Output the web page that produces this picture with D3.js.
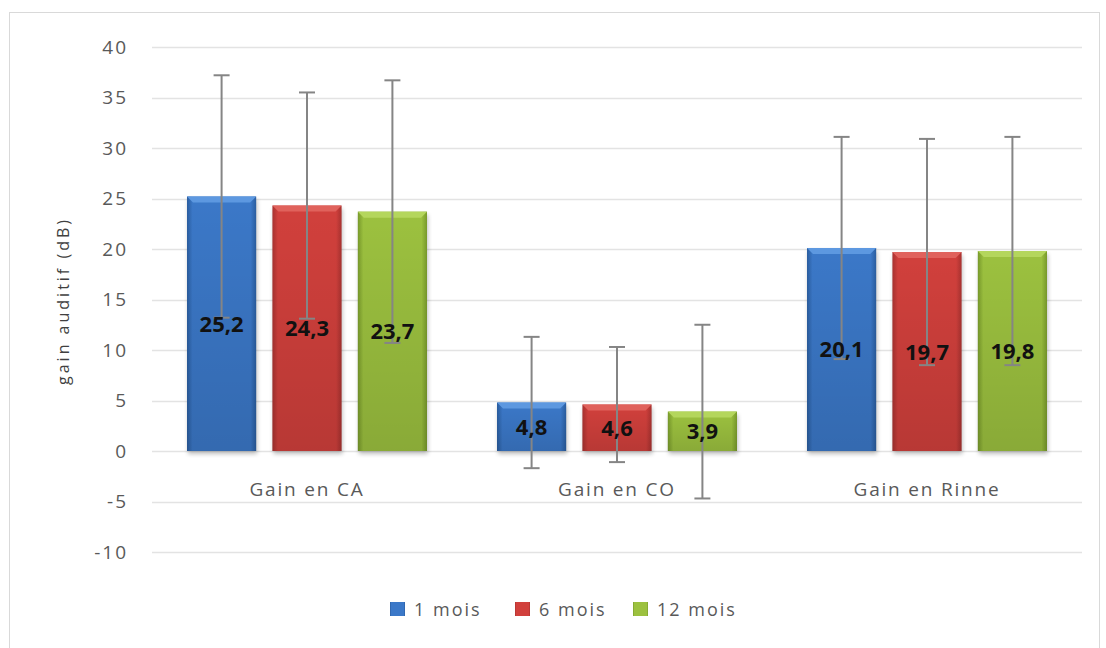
<!DOCTYPE html>
<html lang="fr">
<head>
<meta charset="UTF-8">
<title>Gain auditif</title>
<script src="https://d3js.org/d3.v7.min.js"></script>
<style>
  body { margin: 0; background: #fff; }
  text { font-family: "Open Sans", "DejaVu Sans", sans-serif; }
</style>
</head>
<body>
<div id="chart"></div>
<script>
// data
var categories = ["Gain en CA", "Gain en CO", "Gain en Rinne"];
var series = ["1 mois", "6 mois", "12 mois"];
var means = [
    [25.2, 24.3, 23.7],
    [4.8, 4.6, 3.9],
    [20.1, 19.7, 19.8]
];
var sds = [
    [12.0, 11.2, 13.0],
    [6.5, 5.7, 8.6],
    [11.0, 11.2, 11.3]
];
var yTicks = [-10, -5, 0, 5, 10, 15, 20, 25, 30, 35, 40];
var labels = [
    ["25,2", "24,3", "23,7"],
    ["4,8", "4,6", "3,9"],
    ["20,1", "19,7", "19,8"]
];

var w = 1106, h = 648;
var colors = [
    { mid: "#3b78c8", light: "#5d98e0", dark: "#2a5d9f" },
    { mid: "#d1403c", light: "#e0625c", dark: "#a83230" },
    { mid: "#9cc13f", light: "#b4d65c", dark: "#789a2b" }
];

var svg = d3.select("#chart").append("svg")
    .attr("width", w)
    .attr("height", h);

var defs = svg.append("defs");
colors.forEach(function(c, i) {
    var g = defs.append("linearGradient")
        .attr("id", "grad" + i)
        .attr("x1", "0%").attr("x2", "100%").attr("y1", "0%").attr("y2", "0%");
    g.append("stop").attr("offset", "0%").attr("stop-color", c.dark);
    g.append("stop").attr("offset", "8%").attr("stop-color", c.mid);
    g.append("stop").attr("offset", "92%").attr("stop-color", c.mid);
    g.append("stop").attr("offset", "100%").attr("stop-color", c.dark);
    var v = defs.append("linearGradient")
        .attr("id", "shade" + i)
        .attr("x1", "0%").attr("x2", "0%").attr("y1", "0%").attr("y2", "100%");
    v.append("stop").attr("offset", "0%").attr("stop-color", "#000").attr("stop-opacity", 0);
    v.append("stop").attr("offset", "100%").attr("stop-color", "#000").attr("stop-opacity", 0.12);
});
var blur = defs.append("filter").attr("id", "shadow")
    .attr("x", "-10%").attr("y", "-10%").attr("width", "120%").attr("height", "130%");
blur.append("feGaussianBlur").attr("stdDeviation", 2);

// outer frame
svg.append("rect")
    .attr("x", 9.5).attr("y", 12.5)
    .attr("width", 1090).attr("height", 660)
    .attr("fill", "#fff")
    .attr("stroke", "#d9d9d9");

var left = 152, right = 1082;
var y = d3.scaleLinear().domain([-10, 40]).range([552, 47]);
var x0 = d3.scaleBand().domain(categories).range([left, right]);
var x1 = d3.scaleBand().domain(series)
    .range([35, x0.bandwidth() - 35])
    .paddingInner(0.19);

// gridlines
svg.append("g")
    .selectAll("line")
    .data(yTicks)
    .enter()
    .append("line")
    .attr("x1", left).attr("x2", right)
    .attr("y1", d => Math.round(y(d)) + 0.5)
    .attr("y2", d => Math.round(y(d)) + 0.5)
    .attr("stroke", "#e3e3e3")
    .attr("stroke-width", 1.5);

// y axis labels (plain hyphen for negatives, like the original)
var yAxis = svg.append("g")
    .attr("transform", "translate(" + left + ",0)")
    .call(d3.axisLeft(y).tickValues(yTicks).tickFormat(d => String(d)).tickSize(0).tickPadding(24));
yAxis.select(".domain").remove();
yAxis.selectAll("text")
    .attr("font-size", "19px")
    .attr("letter-spacing", "2px")
    .attr("fill", "#595959")
    .style("font-family", "'Open Sans', 'DejaVu Sans', sans-serif");

svg.append("text")
    .attr("transform", "translate(69,301) rotate(-90)")
    .attr("text-anchor", "middle")
    .attr("font-size", "16px")
    .attr("letter-spacing", "3px")
    .attr("fill", "#404040")
    .text("gain auditif (dB)");

// category labels
svg.append("g")
    .selectAll("text")
    .data(categories)
    .enter()
    .append("text")
    .attr("x", d => x0(d) + x0.bandwidth() / 2)
    .attr("y", 496)
    .attr("text-anchor", "middle")
    .attr("font-size", "19px")
    .attr("letter-spacing", "1.8px")
    .attr("fill", "#595959")
    .text(d => d);

// bars
var rows = [];
categories.forEach(function(c, i) {
    series.forEach(function(s, j) {
        rows.push({ cat: c, ser: s, ci: i, si: j, v: means[i][j], sd: sds[i][j], label: labels[i][j] });
    });
});

var bw = x1.bandwidth();

svg.append("g")
    .selectAll("rect")
    .data(rows)
    .enter()
    .append("rect")
    .attr("x", d => x0(d.cat) + x1(d.ser) + 1)
    .attr("y", d => y(d.v) + 3)
    .attr("width", bw)
    .attr("height", d => y(0) - y(d.v))
    .attr("fill", "#000")
    .attr("opacity", 0.25)
    .attr("filter", "url(#shadow)");

var bars = svg.append("g")
    .selectAll("g")
    .data(rows)
    .enter()
    .append("g");

bars.append("rect")
    .attr("x", d => x0(d.cat) + x1(d.ser))
    .attr("y", d => y(d.v))
    .attr("width", bw)
    .attr("height", d => y(0) - y(d.v))
    .attr("fill", d => "url(#grad" + d.si + ")");

bars.append("rect")
    .attr("x", d => x0(d.cat) + x1(d.ser))
    .attr("y", d => y(d.v))
    .attr("width", bw)
    .attr("height", d => y(0) - y(d.v))
    .attr("fill", d => "url(#shade" + d.si + ")");

// top bevel
bars.append("path")
    .attr("d", function(d) {
        var xl = x0(d.cat) + x1(d.ser), yt = y(d.v);
        return "M" + xl + "," + yt + "L" + (xl + bw) + "," + yt +
            "L" + (xl + bw - 6) + "," + (yt + 6) + "L" + (xl + 6) + "," + (yt + 6) + "Z";
    })
    .attr("fill", d => colors[d.si].light);

// error bars
var err = svg.append("g")
    .selectAll("g")
    .data(rows)
    .enter()
    .append("g")
    .attr("stroke", "#858585")
    .attr("stroke-width", 2);

err.append("line")
    .attr("x1", d => x0(d.cat) + x1(d.ser) + bw / 2)
    .attr("x2", d => x0(d.cat) + x1(d.ser) + bw / 2)
    .attr("y1", d => y(d.v + d.sd))
    .attr("y2", d => y(d.v - d.sd));

err.append("line")
    .attr("x1", d => x0(d.cat) + x1(d.ser) + bw / 2 - 8)
    .attr("x2", d => x0(d.cat) + x1(d.ser) + bw / 2 + 8)
    .attr("y1", d => y(d.v + d.sd))
    .attr("y2", d => y(d.v + d.sd));

err.append("line")
    .attr("x1", d => x0(d.cat) + x1(d.ser) + bw / 2 - 8)
    .attr("x2", d => x0(d.cat) + x1(d.ser) + bw / 2 + 8)
    .attr("y1", d => y(d.v - d.sd))
    .attr("y2", d => y(d.v - d.sd));

// value labels
svg.append("g")
    .selectAll("text")
    .data(rows)
    .enter()
    .append("text")
    .attr("x", d => x0(d.cat) + x1(d.ser) + bw / 2)
    .attr("y", d => y(d.v / 2) + 8)
    .attr("text-anchor", "middle")
    .attr("font-size", "22px")
    .attr("font-weight", "bold")
    .attr("fill", "#111")
    .text(d => d.label);

// legend
var legendX = [390, 515, 633];
var legend = svg.append("g")
    .selectAll("g")
    .data(series)
    .enter()
    .append("g")
    .attr("transform", (d, i) => "translate(" + legendX[i] + ",602)");

legend.append("rect")
    .attr("width", 15).attr("height", 14)
    .attr("fill", (d, i) => "url(#grad" + i + ")");

legend.append("text")
    .attr("x", 24).attr("y", 14)
    .attr("font-size", "18px")
    .attr("letter-spacing", "2px")
    .attr("fill", "#595959")
    .text(d => d);
</script>
</body>
</html>
